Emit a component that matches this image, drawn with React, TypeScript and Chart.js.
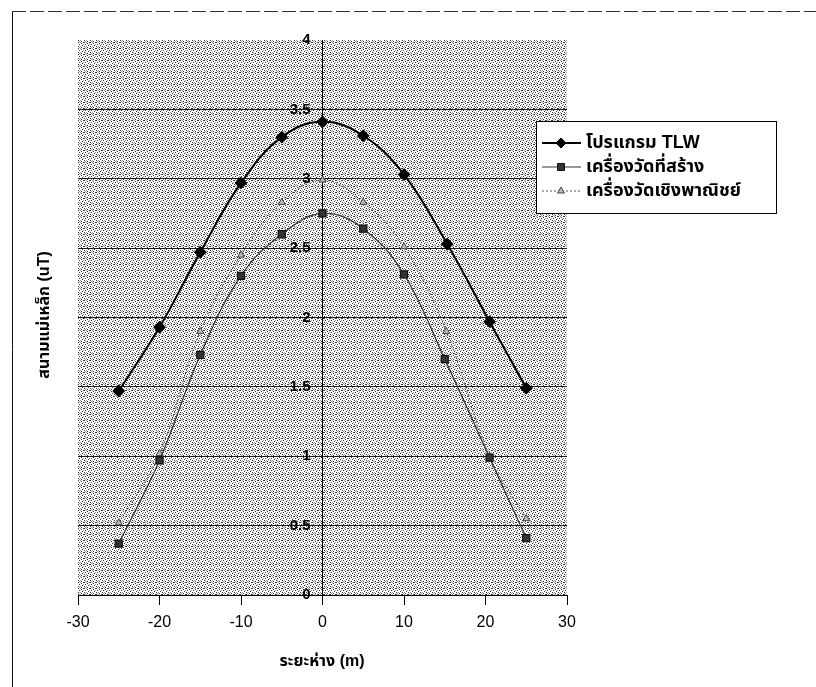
import React, { useEffect, useRef } from "react";
import { Chart, registerables } from "chart.js";

Chart.register(...registerables);

// ---- data ----
const seriesNames = ["โปรแกรม TLW", "เครื่องวัดที่สร้าง", "เครื่องวัดเชิงพาณิชย์"];

const xTLW = [-25, -20, -15, -10, -5, 0, 5, 10, 15.3, 20.5, 25];
const yTLW = [1.47, 1.93, 2.47, 2.97, 3.3, 3.41, 3.31, 3.03, 2.53, 1.97, 1.49];

const xBuilt = [-25, -20, -15, -10, -5, 0, 5, 10, 15, 20.5, 25];
const yBuilt = [0.37, 0.97, 1.73, 2.3, 2.6, 2.75, 2.64, 2.31, 1.7, 0.99, 0.41];

const xComm = [-25, -20, -15, -10, -5, 0, 5, 10, 15.2, 20.5, 25];
const yComm = [0.52, 1.02, 1.9, 2.45, 2.83, 2.99, 2.83, 2.51, 1.9, 1.0, 0.55];

const xMin = -30;
const xMax = 30;
const xStep = 10;
const yMin = 0;
const yMax = 4;
const yStep = 0.5;

const xTitle = "ระยะห่าง (m)";
const yTitle = "สนามแม่เหล็ก (uT)";

const FONT = 'Arial, "Liberation Sans", "Noto Sans Thai", "Noto Sans", sans-serif';

function zip(xs: number[], ys: number[]) {
  return xs.map((x, i) => ({ x, y: ys[i] }));
}

function makePattern(ctx: CanvasRenderingContext2D) {
  const c = document.createElement("canvas");
  c.width = 6;
  c.height = 6;
  const g = c.getContext("2d")!;
  g.fillStyle = "#ffffff";
  g.fillRect(0, 0, 6, 6);
  const dark = [
    [0, 0],
    [3, 1],
    [1, 2],
    [4, 3],
    [0, 4],
    [3, 5],
    [5, 0],
  ];
  const mid = [
    [2, 0],
    [5, 2],
    [2, 4],
    [1, 5],
  ];
  g.fillStyle = "#333333";
  dark.forEach(([x, y]) => g.fillRect(x, y, 1, 1));
  g.fillStyle = "#9a9a9a";
  mid.forEach(([x, y]) => g.fillRect(x, y, 1, 1));
  return ctx.createPattern(c, "repeat");
}

function drawMarker(ctx: CanvasRenderingContext2D, style: string, x: number, y: number, r: number, fill: string, stroke: string) {
  ctx.save();
  ctx.beginPath();
  if (style === "rectRot") {
    ctx.moveTo(x, y - r);
    ctx.lineTo(x + r, y);
    ctx.lineTo(x, y + r);
    ctx.lineTo(x - r, y);
    ctx.closePath();
  } else if (style === "rect") {
    const s = r * 0.7;
    ctx.rect(x - s, y - s, 2 * s, 2 * s);
  } else {
    ctx.moveTo(x, y - r);
    ctx.lineTo(x + r * 0.87, y + r * 0.5);
    ctx.lineTo(x - r * 0.87, y + r * 0.5);
    ctx.closePath();
  }
  ctx.fillStyle = fill;
  ctx.fill();
  ctx.strokeStyle = stroke;
  ctx.lineWidth = 1;
  ctx.stroke();
  ctx.restore();
}

const decorPlugin = {
  id: "decor",
  beforeDraw(chart: any) {
    const { ctx, chartArea } = chart;
    ctx.save();
    ctx.fillStyle = "#ffffff";
    ctx.fillRect(0, 0, chart.width, chart.height);
    const pat = makePattern(ctx);
    if (pat) ctx.fillStyle = pat;
    ctx.fillRect(chartArea.left, chartArea.top, chartArea.right - chartArea.left, chartArea.bottom - chartArea.top);
    // page frame of the scan
    ctx.strokeStyle = "#111";
    ctx.lineWidth = 1;
    ctx.beginPath();
    ctx.moveTo(12.5, 12);
    ctx.lineTo(12.5, chart.height);
    ctx.stroke();
    ctx.setLineDash([14, 4]);
    ctx.strokeStyle = "#333";
    ctx.beginPath();
    ctx.moveTo(12, 11.5);
    ctx.lineTo(chart.width, 11.5);
    ctx.stroke();
    ctx.restore();
  },
  afterDatasetsDraw(chart: any) {
    // y tick labels, left of the centred y axis
    const { ctx } = chart;
    const ys = chart.scales.y;
    const xs = chart.scales.x;
    const ax = xs.getPixelForValue(0);
    ctx.save();
    ctx.fillStyle = "#000";
    ctx.font = `bold 15px ${FONT}`;
    ctx.textAlign = "right";
    ctx.textBaseline = "middle";
    ys.ticks.forEach((t: any) => {
      ctx.fillText(String(t.value), ax - 12, ys.getPixelForValue(t.value));
    });
    ctx.restore();
  },
  afterDraw(chart: any) {
    const { ctx } = chart;
    ctx.save();
    // axis titles
    ctx.fillStyle = "#000";
    ctx.font = `bold 16px ${FONT}`;
    ctx.textAlign = "center";
    ctx.textBaseline = "middle";
    ctx.fillText(xTitle, 322, 662);
    ctx.translate(45, 315);
    ctx.rotate(-Math.PI / 2);
    ctx.fillText(yTitle, 0, 0);
    ctx.restore();

    // legend box
    const lx = 536;
    const ly = 121;
    const lw = 240;
    const lh = 92;
    ctx.save();
    ctx.fillStyle = "#ffffff";
    ctx.fillRect(lx, ly, lw, lh);
    ctx.strokeStyle = "#000";
    ctx.lineWidth = 1;
    ctx.strokeRect(lx + 0.5, ly + 0.5, lw, lh);
    const rows = [143, 167, 191];
    chart.data.datasets.forEach((ds: any, i: number) => {
      const y = rows[i];
      ctx.save();
      ctx.strokeStyle = ds.borderColor;
      ctx.lineWidth = ds.borderWidth;
      ctx.setLineDash(ds.borderDash || []);
      ctx.beginPath();
      ctx.moveTo(542, y);
      ctx.lineTo(581, y);
      ctx.stroke();
      ctx.restore();
      drawMarker(ctx, ds.pointStyle, 561, y, ds.pointRadius, ds.pointBackgroundColor, ds.pointBorderColor);
      ctx.fillStyle = "#000";
      ctx.font = `bold 18px ${FONT}`;
      ctx.textAlign = "left";
      ctx.textBaseline = "middle";
      ctx.fillText(ds.label, 586, y);
    });
    ctx.restore();
  },
};

export default function App() {
  const ref = useRef<HTMLCanvasElement | null>(null);

  useEffect(() => {
    document.body.style.margin = "0";
    const canvas = ref.current!;
    const chart = new Chart(canvas, {
      type: "scatter",
      data: {
        datasets: [
          {
            label: seriesNames[0],
            data: zip(xTLW, yTLW),
            showLine: true,
            borderColor: "#000000",
            borderWidth: 2,
            tension: 0.4,
            pointStyle: "rectRot",
            pointRadius: 5,
            pointBackgroundColor: "#000000",
            pointBorderColor: "#000000",
          },
          {
            label: seriesNames[1],
            data: zip(xBuilt, yBuilt),
            showLine: true,
            borderColor: "#333333",
            borderWidth: 1.2,
            tension: 0.4,
            pointStyle: "rect",
            pointRadius: 5,
            pointBackgroundColor: "#333333",
            pointBorderColor: "#111111",
          },
          {
            label: seriesNames[2],
            data: zip(xComm, yComm),
            showLine: true,
            borderColor: "#555555",
            borderWidth: 1,
            borderDash: [2, 2],
            tension: 0.4,
            pointStyle: "triangle",
            pointRadius: 4,
            pointBackgroundColor: "#bbbbbb",
            pointBorderColor: "#444444",
          },
        ] as any,
      },
      options: {
        responsive: false,
        animation: false,
        layout: { padding: { left: 78, right: 249, top: 40, bottom: 0 } },
        plugins: {
          legend: { display: false },
          tooltip: { enabled: false },
        },
        scales: {
          x: {
            type: "linear",
            position: "bottom",
            min: xMin,
            max: xMax,
            afterFit: (s: any) => {
              s.height = 92;
            },
            ticks: {
              stepSize: xStep,
              color: "#000",
              padding: 8,
              font: { family: FONT, size: 16 },
            },
            grid: {
              drawOnChartArea: false,
              color: "#000",
              tickLength: 10,
            },
            border: { color: "#000", width: 1 },
          },
          y: {
            type: "linear",
            position: { x: 0 } as any,
            min: yMin,
            max: yMax,
            afterFit: (s: any) => {
              s.width = 0;
            },
            ticks: {
              stepSize: yStep,
              display: false,
            },
            grid: {
              color: (c: any) => (c.tick && c.tick.value === yMax ? "rgba(0,0,0,0)" : "#1a1a1a"),
              lineWidth: 1,
              tickLength: 6,
            },
            border: { color: "#000", width: 1 },
          },
        },
      },
      plugins: [decorPlugin],
    });
    return () => chart.destroy();
  }, []);

  return (
    <div style={{ width: 816, height: 687 }}>
      <canvas ref={ref} width={816} height={687} style={{ width: 816, height: 687, display: "block" }} />
    </div>
  );
}
